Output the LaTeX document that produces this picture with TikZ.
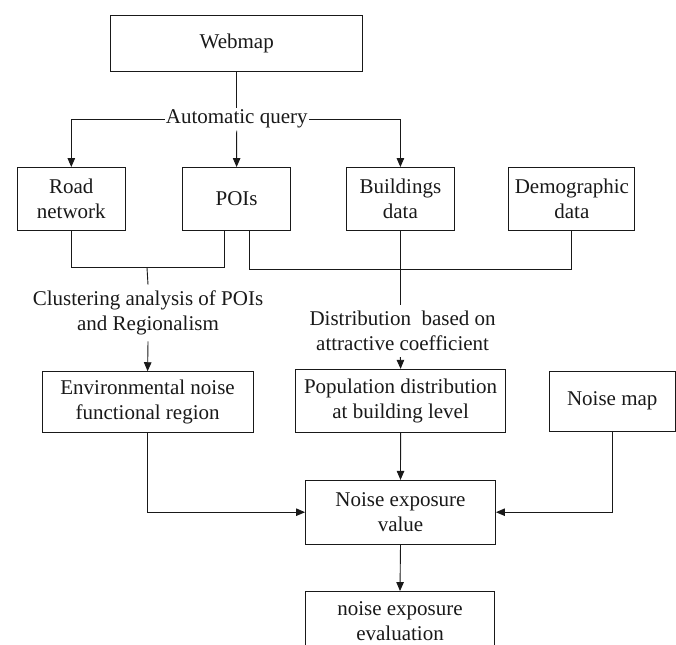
\documentclass[tikz,border=0pt]{standalone}
\usepackage{fontspec}
\setmainfont{Liberation Serif}
\usetikzlibrary{arrows.meta,calc}
\begin{document}
\begin{tikzpicture}[x=1pt,y=-1pt,
  font=\fontsize{21}{25}\selectfont,
  every node/.style={text=black!90},
  box/.style={draw=black!90, line width=0.9pt, inner sep=0pt, align=center},
  lbl/.style={align=center, inner sep=2pt},
  ln/.style={draw=black!90, line width=0.9pt},
  arr/.style={ln, -{Triangle[length=9pt,width=7.5pt]}}]
\useasboundingbox (0,0) rectangle (676,644);
% boxes
\node[box, minimum width=252pt, minimum height=56pt] (web) at (236.7,43) {Webmap};
\node[box, minimum width=108pt, minimum height=63pt] (road) at (71.3,199) {Road\\network};
\node[box, minimum width=108pt, minimum height=63pt] (pois) at (236.6,199) {POIs};
\node[box, minimum width=108pt, minimum height=63pt] (bld) at (400.4,199) {Buildings\\data};
\node[box, minimum width=126pt, minimum height=63pt] (dem) at (571.9,199) {Demographic\\data};
\node[box, minimum width=211pt, minimum height=60.6pt] (env) at (147.6,402) {Environmental noise\\functional region};
\node[box, minimum width=210pt, minimum height=63pt] (pop) at (400.6,400.8) {Population distribution\\at building level};
\node[box, minimum width=126pt, minimum height=60pt] (nmap) at (612.2,401) {Noise map};
\node[box, minimum width=190pt, minimum height=63.7pt] (nev) at (400.5,512.2) {Noise exposure\\value};
\node[box, minimum width=189pt, minimum height=60pt] (eval) at (400,621.5) {noise exposure\\evaluation};
% automatic query
\coordinate (aqc) at (236.7,119.3);
\coordinate (aqL) at (71.3,119.3);
\coordinate (aqR) at (400.4,119.3);
\draw[ln] (aqL) -- (aqR);
\node[lbl, fill=white, inner xsep=1pt] (aq) at (aqc) {Automatic query};
\draw[ln] (web.south) -- (aq.north);
\draw[arr] (aqL) -- (road.north);
\draw[arr] (aq.south) -- (pois.north);
\draw[arr] (aqR) -- (bld.north);
% clustering branch
\node[lbl, inner sep=6pt] (clu) at (148,313) {Clustering analysis of POIs\\and Regionalism};
\coordinate (j1) at (147,267.7);
\coordinate (pl) at ($(pois.south)+(-12.4,0)$);
\draw[ln] (road.south) |- (j1) -| (pl);
\draw[ln] (j1) -- (clu.north);
\draw[arr] (clu.south) -- (env.north);
% distribution branch
\node[lbl, inner sep=6pt] (dist) at (402.6,331) {Distribution\ \ based on\\attractive coefficient};
\coordinate (pr) at ($(pois.south)+(12.8,0)$);
\coordinate (j2) at (571.9,269);
\draw[ln] (pr) |- (j2) -- (dem.south);
\draw[ln] (bld.south) -- (bld.south |- dist.north);
\draw[arr] (bld.south |- dist.south) -- (pop.north);
% lower part
\draw[arr] (env.south) |- (nev.west);
\draw[arr] (nmap.south) |- (nev.east);
\draw[arr] (pop.south) -- (nev.north);
\draw[arr] (nev.south) -- (eval.north);
\end{tikzpicture}
\end{document}
